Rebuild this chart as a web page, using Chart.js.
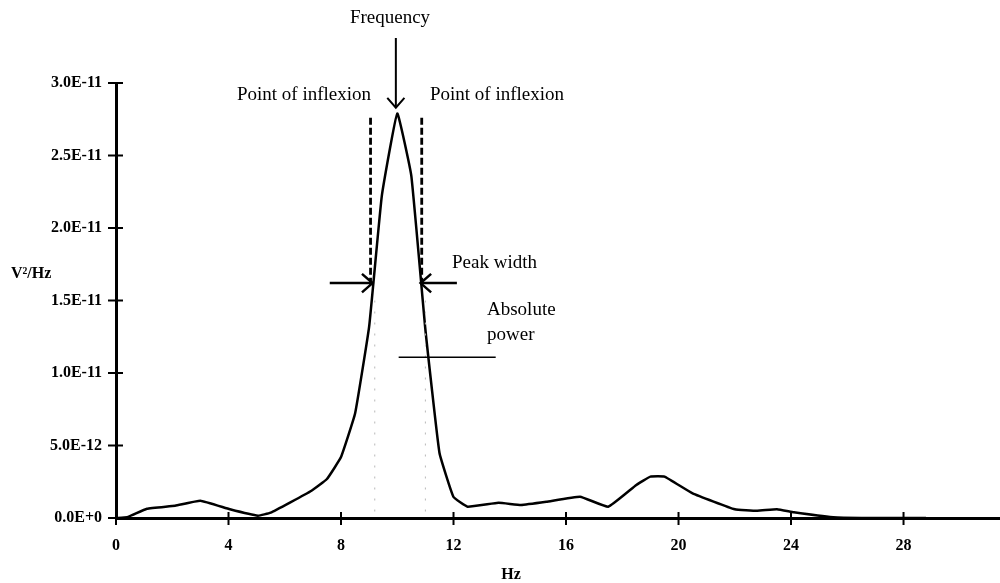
<!DOCTYPE html>
<html>
<head>
<meta charset="utf-8">
<script src="https://cdn.jsdelivr.net/npm/chart.js@4.4.0/dist/chart.umd.min.js"></script>
<style>
    html, body { margin: 0; padding: 0; background: #ffffff; }
    #wrap { width: 1000px; height: 583px; position: relative; }
</style>
</head>
<body>
<div id="wrap"><canvas id="spectrum"></canvas></div>
<script>
// Power spectrum (V²/Hz against Hz)
const freqHz = [0, 0.4, 1.1, 2.1, 3.0, 4.05, 5.05, 5.5, 6.2, 6.95,
                7.5, 8.0, 8.5, 9.0, 9.45, 10.0, 10.5, 11.0, 11.5, 12.0,
                12.5, 13.6, 14.4, 15.3, 16.5, 17.5, 18.5, 19.0, 19.5, 20.5,
                22.0, 22.8, 23.5, 24.1, 25.5, 26.5, 28.8];
// in units of 1E-12 V²/Hz
const power = [0, 0.05, 0.64, 0.85, 1.19, 0.6, 0.16, 0.37, 1.08, 1.88,
               2.69, 4.2, 7.2, 13.2, 22.2, 27.9, 23.6, 13.0, 4.5, 1.45,
               0.78, 1.05, 0.9, 1.12, 1.47, 0.78, 2.28, 2.85, 2.85, 1.7,
               0.6, 0.5, 0.6, 0.39, 0.05, 0, 0];

const xTicks = [0, 4, 8, 12, 16, 20, 24, 28];
const yTicks = [0, 5e-12, 1e-11, 1.5e-11, 2e-11, 2.5e-11, 3e-11];

const SERIF = '"Liberation Serif", "DejaVu Serif", serif';

// Petites fonctions de dessin
function line(ctx, x1, y1, x2, y2) {
    ctx.beginPath();
    ctx.moveTo(x1, y1);
    ctx.lineTo(x2, y2);
    ctx.stroke();
}

function arrow(ctx, x1, y1, x2, y2, head) {
    line(ctx, x1, y1, x2, y2);
    const a = Math.atan2(y2 - y1, x2 - x1);
    const spread = 0.72;
    ctx.beginPath();
    ctx.moveTo(x2 - head * Math.cos(a - spread), y2 - head * Math.sin(a - spread));
    ctx.lineTo(x2, y2);
    ctx.lineTo(x2 - head * Math.cos(a + spread), y2 - head * Math.sin(a + spread));
    ctx.stroke();
}

// Ticks crossing the axes, labels and annotations
const annotations = {
    id: 'annotations',
    afterDraw(chart) {
        const ctx = chart.ctx;
        const xs = chart.scales.x;
        const ys = chart.scales.y;
        const px = v => xs.getPixelForValue(v);
        const py = v => ys.getPixelForValue(v);
        const area = chart.chartArea;

        ctx.save();
        ctx.strokeStyle = '#000';
        ctx.fillStyle = '#000';
        ctx.lineCap = 'butt';

        // tick marks on both sides of the axis lines
        ctx.lineWidth = 2;
        xs.ticks.forEach(t => {
            const x = px(t.value);
            line(ctx, x, area.bottom - 6, x, area.bottom + 7);
        });
        ys.ticks.forEach(t => {
            const y = py(t.value);
            line(ctx, area.left - 8, y, area.left + 7, y);
        });

        // faint dotted guides under the peak
        ctx.save();
        ctx.strokeStyle = '#b8b8b8';
        ctx.lineWidth = 1;
        ctx.setLineDash([2, 9]);
        line(ctx, px(9.2), py(15e-12), px(9.2), py(0));
        line(ctx, px(11.0), py(15e-12), px(11.0), py(0));
        ctx.restore();

        // dashed inflexion lines
        ctx.save();
        ctx.lineWidth = 2.8;
        ctx.setLineDash([7, 3]);
        line(ctx, px(9.05), py(27.6e-12), px(9.05), py(15.9e-12));
        line(ctx, px(10.87), py(27.6e-12), px(10.87), py(15.9e-12));
        ctx.restore();

        // peak width arrows
        ctx.lineWidth = 2.5;
        arrow(ctx, px(7.6), py(16.2e-12), px(9.12), py(16.2e-12), 14);
        arrow(ctx, px(12.12), py(16.2e-12), px(10.83), py(16.2e-12), 14);

        // frequency arrow
        ctx.lineWidth = 2;
        arrow(ctx, px(9.95), 38, px(9.95), py(28.3e-12), 13);

        // absolute power line
        ctx.lineWidth = 1.5;
        line(ctx, px(10.05), py(11.08e-12), px(13.5), py(11.08e-12));

        // texts
        ctx.textBaseline = 'middle';
        ctx.font = '19px ' + SERIF;
        ctx.textAlign = 'center';
        ctx.fillText('Frequency', 390, 18);
        ctx.fillText('Point of inflexion', 304, 95);
        ctx.fillText('Point of inflexion', 497, 95);
        ctx.textAlign = 'left';
        ctx.fillText('Peak width', 452, 263);
        ctx.fillText('Absolute', 487, 310);
        ctx.fillText('power', 487, 335);

        ctx.font = 'bold 16px ' + SERIF;
        ctx.fillText('V²/Hz', 11, 274);
        ctx.textAlign = 'center';
        ctx.fillText('Hz', 511, 575);

        ctx.restore();
    }
};

const data = {
    datasets: [{
        label: 'V²/Hz',
        data: freqHz.map((f, i) => ({ x: f, y: power[i] * 1e-12 })),
        borderColor: '#000000',
        borderWidth: 2.5,
        pointRadius: 0,
        tension: 0.1,
        fill: false
    }]
};

new Chart(document.getElementById('spectrum'), {
    type: 'line',
    data: data,
    options: {
        responsive: true,
        maintainAspectRatio: false,
        animation: false,
        layout: {
            padding: { top: 83, right: 0, bottom: 0, left: 0 }
        },
        plugins: {
            legend: { display: false },
            tooltip: { enabled: false }
        },
        scales: {
            x: {
                type: 'linear',
                min: 0,
                max: 31.43,
                afterBuildTicks: scale => {
                    scale.ticks = xTicks.map(v => ({ value: v }));
                },
                afterFit: scale => {
                    scale.height = 65;
                },
                grid: { display: false, drawTicks: false },
                border: { display: true, color: '#000', width: 3 },
                ticks: {
                    padding: 18,
                    color: '#000',
                    maxRotation: 0,
                    font: { family: SERIF, size: 16, weight: 'bold' }
                }
            },
            y: {
                type: 'linear',
                min: 0,
                max: 3e-11,
                afterBuildTicks: scale => {
                    scale.ticks = yTicks.map(v => ({ value: v }));
                },
                afterFit: scale => {
                    scale.width = 116;
                },
                grid: { display: false, drawTicks: false },
                border: { display: true, color: '#000', width: 3 },
                ticks: {
                    padding: 14,
                    color: '#000',
                    font: { family: SERIF, size: 16, weight: 'bold' },
                    callback: function(value) {
                        return Number(value).toExponential(1).toUpperCase();
                    }
                }
            }
        }
    },
    plugins: [annotations]
});
</script>
</body>
</html>
